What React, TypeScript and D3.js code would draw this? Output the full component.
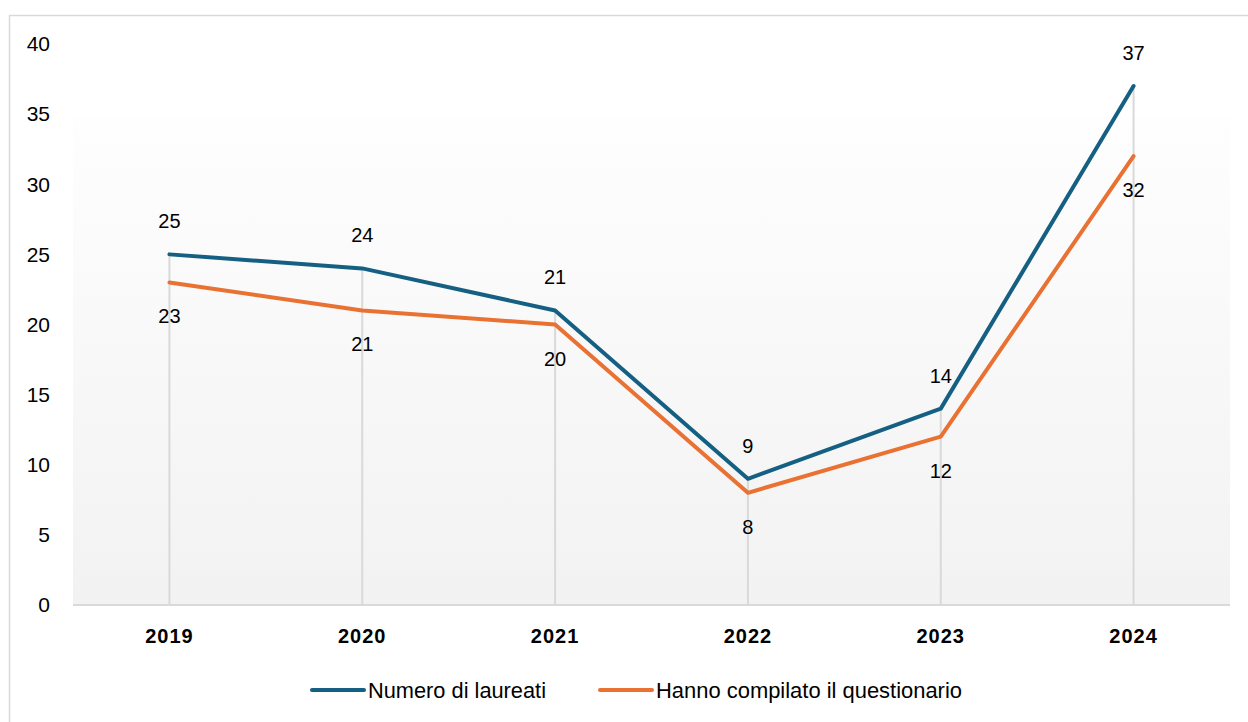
import React, { useEffect, useRef } from "react";
import * as d3 from "d3";

const years = ["2019", "2020", "2021", "2022", "2023", "2024"];
const laureati = [25, 24, 21, 9, 14, 37];
const compilato = [23, 21, 20, 8, 12, 32];
const yTicks = [0, 5, 10, 15, 20, 25, 30, 35, 40];

const series = [
  { name: "Numero di laureati", values: laureati, color: "#156082", above: true },
  { name: "Hanno compilato il questionario", values: compilato, color: "#E97132", above: false },
];

const W = 1248;
const H = 722;

const App: React.FC = () => {
  const svgRef = useRef<SVGSVGElement>(null);

  useEffect(() => {
    if (!svgRef.current) return;
    const svg = d3.select(svgRef.current);
    svg.selectAll("*").remove();

    const margin = { top: 44, right: 18, bottom: 117, left: 73 };
    const font = "'Liberation Sans', Arial, sans-serif";

    // chart frame
    svg
      .append("rect")
      .attr("x", 9.5)
      .attr("y", 15.5)
      .attr("width", W)
      .attr("height", H)
      .attr("fill", "#ffffff")
      .attr("stroke", "#d9d9d9")
      .attr("stroke-width", 1.5);

    const x = d3
      .scaleBand()
      .domain(years)
      .range([margin.left, W - margin.right]);
    const y = d3
      .scaleLinear()
      .domain([0, 40])
      .range([H - margin.bottom, margin.top]);

    // plot area gradient
    const defs = svg.append("defs");
    const grad = defs
      .append("linearGradient")
      .attr("id", "plotbg")
      .attr("x1", 0)
      .attr("y1", 0)
      .attr("x2", 0)
      .attr("y2", 1);
    grad.append("stop").attr("offset", "0%").attr("stop-color", "#fefefe");
    grad.append("stop").attr("offset", "100%").attr("stop-color", "#f2f2f2");

    const bgTop = 117;
    svg
      .append("rect")
      .attr("x", margin.left)
      .attr("y", bgTop)
      .attr("width", W - margin.right - margin.left)
      .attr("height", y(0) - bgTop)
      .attr("fill", "url(#plotbg)");

    const cx = (d: string) => (x(d) ?? 0) + x.bandwidth() / 2;

    // drop lines
    svg
      .append("g")
      .selectAll("line")
      .data(years)
      .join("line")
      .attr("x1", (d) => cx(d))
      .attr("x2", (d) => cx(d))
      .attr("y1", (_, i) => y(Math.max(laureati[i], compilato[i])))
      .attr("y2", y(0))
      .attr("stroke", "#d9d9d9")
      .attr("stroke-width", 2);

    // x axis line
    svg
      .append("line")
      .attr("x1", margin.left)
      .attr("x2", W - margin.right)
      .attr("y1", y(0))
      .attr("y2", y(0))
      .attr("stroke", "#d9d9d9")
      .attr("stroke-width", 2);

    // y tick labels
    svg
      .append("g")
      .selectAll("text")
      .data(yTicks)
      .join("text")
      .attr("x", 50)
      .attr("y", (d) => y(d))
      .attr("dy", "0.35em")
      .attr("text-anchor", "end")
      .attr("font-family", font)
      .attr("font-size", 21)
      .attr("fill", "#000")
      .text((d) => d);

    // x tick labels
    svg
      .append("g")
      .selectAll("text")
      .data(years)
      .join("text")
      .attr("x", (d) => cx(d))
      .attr("y", y(0) + 31)
      .attr("dy", "0.35em")
      .attr("text-anchor", "middle")
      .attr("font-family", font)
      .attr("font-weight", "bold")
      .attr("font-size", 20)
      .attr("letter-spacing", 1)
      .attr("fill", "#000")
      .text((d) => d);

    const line = d3
      .line<number>()
      .x((_, i) => cx(years[i]))
      .y((d) => y(d));

    series.forEach((s) => {
      svg
        .append("path")
        .datum(s.values)
        .attr("d", line)
        .attr("fill", "none")
        .attr("stroke", s.color)
        .attr("stroke-width", 4)
        .attr("stroke-linejoin", "round")
        .attr("stroke-linecap", "round");

      svg
        .append("g")
        .selectAll("text")
        .data(s.values)
        .join("text")
        .attr("x", (_, i) => cx(years[i]))
        .attr("y", (d) => y(d) + (s.above ? -33 : 34))
        .attr("dy", "0.35em")
        .attr("text-anchor", "middle")
        .attr("font-family", font)
        .attr("font-size", 20)
        .attr("fill", "#000")
        .text((d) => d);
    });

    // legend
    const legendItems = [
      { x: 310, len: 178, ...series[0] },
      { x: 598, len: 306, ...series[1] },
    ];
    legendItems.forEach((item) => {
      const g = svg.append("g").attr("transform", `translate(${item.x}, 690)`);
      g.append("line")
        .attr("x1", 2)
        .attr("x2", 54)
        .attr("y1", 0)
        .attr("y2", 0)
        .attr("stroke", item.color)
        .attr("stroke-width", 4)
        .attr("stroke-linecap", "round");
      g.append("text")
        .attr("x", 58)
        .attr("y", 0)
        .attr("dy", "0.35em")
        .attr("font-family", font)
        .attr("font-size", 22)
        .attr("textLength", item.len)
        .attr("lengthAdjust", "spacingAndGlyphs")
        .attr("fill", "#000")
        .text(item.name);
    });
  }, []);

  return (
    <svg
      ref={svgRef}
      width={W}
      height={H}
      style={{ position: "absolute", left: 0, top: 0, display: "block" }}
    />
  );
};

export default App;
